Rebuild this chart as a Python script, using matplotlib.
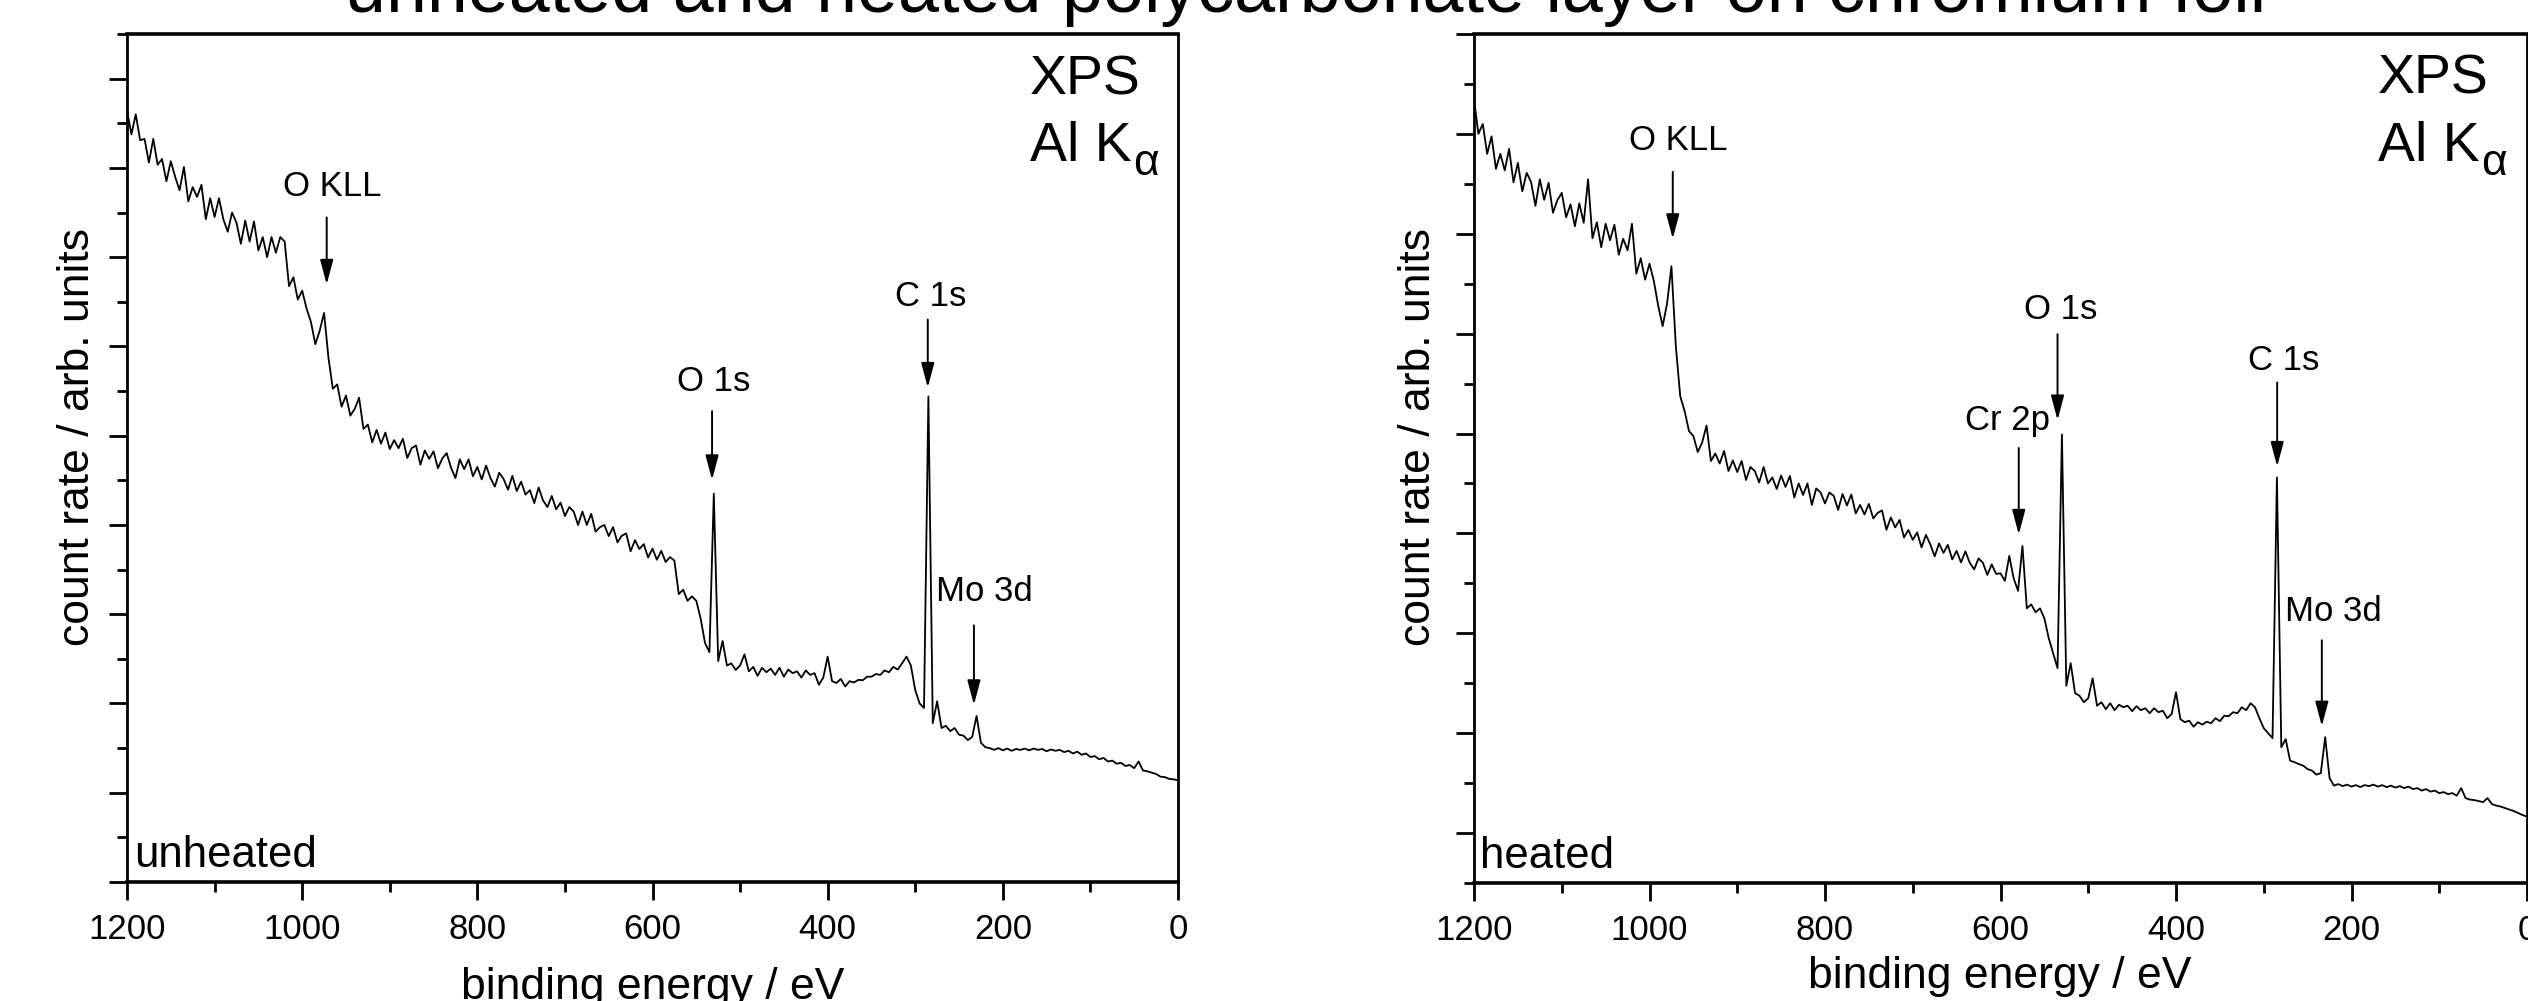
import numpy as np
import matplotlib
matplotlib.use("Agg")
import matplotlib.pyplot as plt
from matplotlib.ticker import FixedLocator, MultipleLocator

plt.rcParams['font.family'] = ['Liberation Sans', 'DejaVu Sans']

# ---------------- data ----------------
energy = np.arange(1200, -1, -5)   # binding energy / eV, 1200 -> 0

unheated = [
    17.3, 16.75, 17.2, 16.62, 16.65, 16.12, 16.65, 16.07, 16.2, 15.7,      # 1200-1155
    16.15, 15.8, 15.5, 16.02, 15.25, 15.57, 15.35, 15.62, 14.85, 15.32,    # 1150-1105
    14.9, 15.32, 14.85, 14.57, 15.0, 14.77, 14.3, 14.82, 14.35, 14.8,      # 1100-1055
    14.15, 14.45, 14.0, 14.45, 14.1, 14.45, 14.35, 13.35, 13.55, 13.05,    # 1050-1005
    13.25, 12.85, 12.55, 12.05, 12.35, 12.75, 11.75, 11.05, 11.15, 10.65,  # 1000-955
    10.9, 10.45, 10.6, 10.85, 10.15, 10.25, 9.85, 10.13, 9.82, 10.07,      # 950-905
    9.7, 9.9, 9.72, 9.93, 9.5, 9.72, 9.78, 9.35, 9.67, 9.48,               # 900-855
    9.65, 9.27, 9.49, 9.61, 9.28, 9.05, 9.47, 9.25, 9.47, 9.09,            # 850-805
    9.3, 9.02, 9.33, 9.05, 8.86, 9.17, 9.03, 8.79, 9.1, 8.76,              # 800-755
    8.97, 8.68, 8.78, 8.49, 8.84, 8.55, 8.4, 8.65, 8.35, 8.5,              # 750-705
    8.2, 8.4, 8.3, 8.0, 8.3, 8.0, 8.25, 7.85, 7.95, 8.0,                   # 700-655
    7.75, 7.95, 7.61, 7.76, 7.81, 7.41, 7.66, 7.46, 7.57, 7.27,            # 650-605
    7.47, 7.22, 7.42, 7.17, 7.28, 7.2, 6.45, 6.55, 6.3, 6.4,               # 600-555
    6.3, 5.9, 5.35, 5.15, 8.7, 4.95, 5.4, 4.85, 4.9, 4.75,                 # 550-505
    4.85, 5.1, 4.72, 4.82, 4.62, 4.8, 4.7, 4.78, 4.64, 4.8,                # 500-455
    4.6, 4.76, 4.68, 4.72, 4.58, 4.74, 4.64, 4.68, 4.42, 4.58,             # 450-405
    5.05, 4.5, 4.46, 4.55, 4.38, 4.5, 4.47, 4.53, 4.52, 4.6,               # 400-355
    4.6, 4.66, 4.64, 4.74, 4.7, 4.82, 4.76, 4.9, 5.05, 4.85,               # 350-305
    4.3, 4.0, 3.9, 10.88, 3.56, 4.05, 3.45, 3.5, 3.38, 3.45,               # 300-255
    3.3, 3.28, 3.18, 3.25, 3.72, 3.12, 3.02, 3.0, 2.96, 3.0,               # 250-205
    2.95, 2.99, 2.94, 2.98, 2.96, 2.99, 2.95, 2.99, 2.96, 2.98,            # 200-155
    2.93, 2.97, 2.94, 2.96, 2.91, 2.94, 2.88, 2.92, 2.85, 2.88,            # 150-105
    2.8, 2.82, 2.75, 2.78, 2.7, 2.72, 2.65, 2.67, 2.6, 2.62,               # 100-55
    2.55, 2.7, 2.5, 2.48, 2.45, 2.42, 2.36, 2.35, 2.31, 2.3,               # 50-5
    2.28,                                                                  # 0
]

heated = [
    15.7, 15.0, 15.2, 14.6, 14.95, 14.3, 14.6, 14.27, 14.7, 14.03,         # 1200-1155
    14.42, 13.85, 14.22, 14.04, 13.56, 14.09, 13.68, 14.02, 13.42, 13.67,  # 1150-1105
    13.82, 13.33, 13.59, 13.15, 13.61, 13.22, 14.09, 12.91, 13.23, 12.73,  # 1100-1055
    13.2, 12.87, 13.18, 12.58, 12.9, 12.67, 13.2, 12.2, 12.51, 12.08,      # 1050-1005
    12.4, 12.05, 11.55, 11.15, 11.6, 12.35, 10.75, 9.75, 9.45, 9.05,       # 1000-955
    8.95, 8.63, 8.82, 9.16, 8.45, 8.6, 8.4, 8.65, 8.25, 8.46,              # 950-905
    8.23, 8.45, 8.07, 8.33, 8.25, 8.02, 8.33, 8.0, 8.12, 7.89,             # 900-855
    8.16, 7.93, 8.15, 7.72, 8.0, 7.77, 8.0, 7.57, 7.9, 7.82,               # 850-805
    7.6, 7.82, 7.75, 7.47, 7.79, 7.56, 7.78, 7.4, 7.57, 7.38,              # 800-755
    7.59, 7.3, 7.41, 7.46, 7.07, 7.32, 7.12, 7.27, 6.92, 7.07,             # 750-705
    6.87, 7.02, 6.72, 6.97, 6.78, 6.54, 6.8, 6.61, 6.77, 6.48,             # 700-655
    6.65, 6.42, 6.64, 6.41, 6.28, 6.5, 6.41, 6.17, 6.38, 6.19,             # 650-605
    6.2, 6.05, 6.55, 6.1, 5.85, 6.75, 5.5, 5.58, 5.42, 5.5,                # 600-555
    5.3, 4.9, 4.6, 4.3, 8.98, 3.95, 4.4, 3.8, 3.75, 3.62,                  # 550-505
    3.7, 4.1, 3.55, 3.62, 3.48, 3.6, 3.46, 3.57, 3.52, 3.55,               # 500-455
    3.44, 3.54, 3.46, 3.5, 3.4, 3.5, 3.42, 3.45, 3.3, 3.38,                # 450-405
    3.82, 3.28, 3.22, 3.25, 3.13, 3.22, 3.17, 3.23, 3.2, 3.3,              # 400-355
    3.24, 3.35, 3.34, 3.42, 3.4, 3.52, 3.46, 3.6, 3.52, 3.3,               # 350-305
    3.1, 3.0, 2.9, 8.12, 2.72, 2.88, 2.45, 2.42, 2.38, 2.35,               # 300-255
    2.28, 2.25, 2.17, 2.2, 2.92, 2.1, 1.95, 1.98, 1.94, 1.97,              # 250-205
    1.93, 1.96, 1.92, 1.96, 1.94, 1.97, 1.93, 1.96, 1.92, 1.95,            # 200-155
    1.91, 1.94, 1.9, 1.93, 1.88, 1.9, 1.85, 1.88, 1.83, 1.85,              # 150-105
    1.8, 1.82, 1.78, 1.8, 1.75, 1.9, 1.7, 1.67, 1.66, 1.64,                # 100-55
    1.62, 1.7, 1.58, 1.55, 1.53, 1.5, 1.47, 1.44, 1.4, 1.36,               # 50-5
    1.33,                                                                  # 0
]

# peak annotations: label text, label position, arrow position (tail -> tip)
labels_u = ['O KLL', 'O 1s', 'C 1s', 'Mo 3d']
label_E_u = [966, 530, 282, 221.5]
label_Y_u = [15.36, 11.0, 12.91, 6.29]
arrow_E_u = [972, 532, 285.7, 233]
arrow_tail_u = [14.89, 10.55, 12.6, 5.75]
arrow_tip_u = [13.39, 9.01, 11.08, 3.97]

labels_h = ['O KLL', 'Cr 2p', 'O 1s', 'C 1s', 'Mo 3d']
label_E_h = [967, 592, 531, 277.6, 221]
label_Y_h = [14.68, 9.08, 11.29, 10.27, 5.25]
arrow_E_h = [973.5, 579.2, 535, 284.7, 233.8]
arrow_tail_h = [14.24, 8.71, 10.99, 10.02, 4.86]
arrow_tip_h = [12.9, 6.98, 9.27, 8.34, 3.14]

x_ticks = [1200, 1000, 800, 600, 400, 200, 0]
title = "unheated and heated polycarbonate layer on chromium foil"

# ---------------- figure ----------------
W, H = 2528, 1001
fig = plt.figure(figsize=(W / 100, H / 100), dpi=100)


def axes_px(left, right, top, bottom):
    return fig.add_axes([left / W, 1 - bottom / H, (right - left) / W, (bottom - top) / H])


def style(ax, ymax, major_y, minor_y):
    ax.set_xlim(1200, 0)
    ax.set_ylim(0, ymax)
    ax.xaxis.set_major_locator(FixedLocator(x_ticks))
    ax.xaxis.set_minor_locator(MultipleLocator(100))
    ax.yaxis.set_major_locator(FixedLocator(major_y))
    ax.yaxis.set_minor_locator(FixedLocator(minor_y))
    ax.set_yticklabels([])
    ax.tick_params(which='both', direction='out', top=False, right=False, width=2.0, color='black')
    ax.tick_params(which='major', length=13)
    ax.tick_params(which='minor', length=7.5)
    ax.tick_params(axis='x', which='major', labelsize=25, pad=9)
    for side in ['top', 'bottom']:
        ax.spines[side].set_linewidth(2.6)
    for side in ['left', 'right']:
        ax.spines[side].set_linewidth(2.0)


def annotate(ax, labels, lE, lY, aE, tail, tip):
    for lab, xe, ye, ae, ya, yb in zip(labels, lE, lY, aE, tail, tip):
        ax.text(xe, ye, lab, fontsize=25, ha='center', va='baseline')
        ax.annotate('', xy=(ae, yb), xytext=(ae, ya),
                    arrowprops=dict(arrowstyle='-|>,head_length=0.6,head_width=0.16',
                                    mutation_scale=25, lw=1.4, color='black',
                                    shrinkA=0, shrinkB=0))


def source_label(ax, xf, yf_xps, yf_al):
    ax.text(xf, yf_xps, 'XPS', transform=ax.transAxes, fontsize=40, ha='left', va='baseline')
    al = ax.text(xf, yf_al, 'Al K', transform=ax.transAxes, fontsize=40, ha='left', va='baseline')
    ax.annotate('α', xy=(1, 0), xycoords=al, xytext=(1, -1), textcoords='offset points',
                fontsize=32, ha='left', va='baseline')


# left panel: unheated
ax1 = axes_px(127, 1178, 34, 882)
ax1.plot(energy, unheated, color='black', lw=1.3)
style(ax1, 19, list(range(0, 20, 2)), list(range(1, 20, 2)))
annotate(ax1, labels_u, label_E_u, label_Y_u, arrow_E_u, arrow_tail_u, arrow_tip_u)
source_label(ax1, 0.859, 0.929, 0.850)
ax1.text(0.0067, 0.018, 'unheated', transform=ax1.transAxes, fontsize=31.5, ha='left', va='baseline')

# right panel: heated
ax2 = axes_px(1474, 2527, 34, 883)
ax2.plot(energy, heated, color='black', lw=1.3)
style(ax2, 17, list(range(1, 18, 2)), list(range(0, 18, 2)))
annotate(ax2, labels_h, label_E_h, label_Y_h, arrow_E_h, arrow_tail_h, arrow_tip_h)
source_label(ax2, 0.8585, 0.930, 0.850)
ax2.text(0.0057, 0.018, 'heated', transform=ax2.transAxes, fontsize=31.5, ha='left', va='baseline')

# axis labels (placed in figure pixels)
fig.text(653 / W, 1 - 999 / H, 'binding energy / eV', fontsize=32, ha='center', va='baseline')
fig.text(2000 / W, 1 - 988 / H, 'binding energy / eV', fontsize=32, ha='center', va='baseline')
fig.text(89 / W, 1 - 437 / H, 'count rate / arb. units', fontsize=32, rotation=90,
         rotation_mode='anchor', ha='center', va='baseline')
fig.text(1430 / W, 1 - 437 / H, 'count rate / arb. units', fontsize=32, rotation=90,
         rotation_mode='anchor', ha='center', va='baseline')

# title (mostly above the visible canvas, as in the reference)
fig.text(1306 / W, 1 - 12 / H, title, fontsize=53, ha='center', va='baseline')

fig.savefig('out.png', dpi=100)
